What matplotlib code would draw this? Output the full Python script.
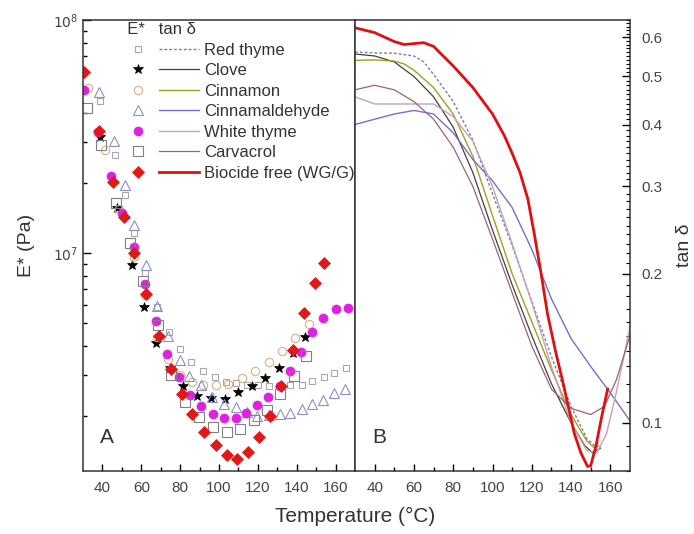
import matplotlib
matplotlib.use("Agg")
import matplotlib.pyplot as plt
from matplotlib.lines import Line2D
from matplotlib.legend_handler import HandlerTuple
from matplotlib.ticker import FixedLocator, NullFormatter, FixedFormatter

plt.rcParams['font.family'] = ['Liberation Sans', 'DejaVu Sans']

# ---------------- Panel A : E* (Pa) ----------------
T_red_thyme = [38.9, 46.6, 51.4, 56.5, 61.8, 68.0, 74.3, 79.7, 85.7, 91.7, 97.7, 103.7,
               108.8, 114.5, 120.0, 125.5, 131.0, 136.5, 142.5, 148.1, 153.8, 159.4, 165.2]
E_red_thyme = [4.51e7, 2.64e7, 1.78e7, 1.22e7, 8.2e6, 5.85e6, 4.6e6, 3.87e6, 3.42e6, 3.13e6, 2.93e6, 2.80e6,
               2.76e6, 2.72e6, 2.71e6, 2.70e6, 2.70e6, 2.71e6, 2.72e6, 2.83e6, 2.95e6, 3.07e6, 3.20e6]

T_clove = [38.8, 47.5, 55.1, 61.6, 67.6, 74.6, 81.7, 88.9, 96.1, 103.1, 110.0, 117.1,
           123.9, 131.1, 137.9, 144.4]
E_clove = [3.16e7, 1.56e7, 8.87e6, 5.89e6, 4.09e6, 3.2e6, 2.69e6, 2.43e6, 2.38e6, 2.36e6, 2.52e6, 2.69e6,
           2.90e6, 3.20e6, 3.71e6, 4.38e6]

T_cinnamon = [32.6, 41.1, 48.5, 56.0, 62.0, 68.3, 74.0, 80.0, 86.0, 92.0, 98.2, 104.5,
              111.9, 118.7, 125.5, 132.4, 139.2, 146.4]
E_cinnamon = [5.1e7, 2.77e7, 1.55e7, 9.6e6, 6.6e6, 4.38e6, 3.5e6, 3.0e6, 2.8e6, 2.72e6, 2.71e6, 2.75e6,
              2.92e6, 3.13e6, 3.42e6, 3.78e6, 4.31e6, 4.95e6]

T_cinnamald = [38.0, 45.7, 51.4, 56.5, 62.2, 68.0, 73.7, 79.9, 84.5, 90.5, 96.5, 102.8,
               108.5, 114.2, 119.6, 125.5, 131.2, 136.7, 142.6, 148.1, 153.7, 159.2, 164.9]
E_cinnamald = [4.92e7, 3.03e7, 1.96e7, 1.32e7, 8.9e6, 5.9e6, 4.4e6, 3.48e6, 2.97e6, 2.71e6, 2.42e6, 2.26e6,
               2.19e6, 2.08e6, 2.0e6, 2.02e6, 2.04e6, 2.05e6, 2.14e6, 2.25e6, 2.35e6, 2.50e6, 2.62e6]

T_white_thyme = [30.7, 37.5, 44.4, 50.2, 56.3, 61.8, 67.6, 73.4, 79.4, 85.0, 90.9, 96.8,
                 102.5, 108.5, 113.9, 119.6, 125.2, 131.2, 136.7, 142.3, 148.1, 153.4, 160.3, 166.3]
E_white_thyme = [5.0e7, 3.32e7, 2.15e7, 1.49e7, 1.06e7, 7.34e6, 5.12e6, 3.69e6, 2.95e6, 2.46e6, 2.21e6, 2.04e6,
                 1.95e6, 1.95e6, 2.05e6, 2.23e6, 2.42e6, 2.69e6, 3.13e6, 3.77e6, 4.59e6, 5.28e6, 5.73e6, 5.82e6]

T_carvacrol = [32.0, 39.5, 47.1, 54.0, 61.0, 68.5, 75.5, 82.5, 89.7, 96.8, 104.2, 111.0,
               117.8, 124.7, 131.5, 138.4, 144.9]
E_carvacrol = [4.2e7, 2.9e7, 1.64e7, 1.1e7, 7.6e6, 4.9e6, 3.0e6, 2.3e6, 1.97e6, 1.79e6, 1.70e6, 1.76e6,
               1.92e6, 2.12e6, 2.48e6, 2.97e6, 3.6e6]

T_biocide = [30.5, 38.2, 45.4, 51.2, 56.3, 62.6, 69.1, 75.5, 80.8, 86.3, 92.2, 98.2,
             103.9, 109.3, 115.0, 120.6, 126.4, 132.1, 137.9, 143.5, 149.2, 153.8]
E_biocide = [6.0e7, 3.34e7, 2.02e7, 1.43e7, 1.0e7, 6.67e6, 4.42e6, 3.17e6, 2.48e6, 2.04e6, 1.70e6, 1.50e6,
             1.36e6, 1.31e6, 1.40e6, 1.62e6, 2.0e6, 2.7e6, 3.84e6, 5.55e6, 7.41e6, 9.04e6]

# ---------------- Panel B : tan delta ----------------
Tt_red_thyme = [30, 40, 50, 60, 65, 70, 80, 90, 100, 110, 120, 130, 140, 148, 152, 155]
tan_red_thyme = [0.56, 0.558, 0.557, 0.55, 0.535, 0.505, 0.445, 0.372, 0.29, 0.228, 0.176, 0.136, 0.108, 0.093, 0.09, 0.092]

Tt_clove = [30, 40, 50, 60, 70, 80, 90, 100, 110, 120, 130, 140, 147, 151, 155]
tan_clove = [0.555, 0.55, 0.535, 0.50, 0.455, 0.395, 0.32, 0.245, 0.19, 0.15, 0.12, 0.1, 0.09, 0.087, 0.089]

Tt_cinnamon = [30, 40, 50, 55, 60, 70, 80, 90, 100, 110, 120, 130, 140, 148, 152, 154]
tan_cinnamon = [0.539, 0.54, 0.537, 0.53, 0.515, 0.475, 0.42, 0.345, 0.262, 0.2, 0.16, 0.128, 0.104, 0.092, 0.089, 0.09]

Tt_cinnamald = [30, 40, 50, 60, 70, 80, 90, 100, 110, 120, 130, 140, 150, 160, 170]
tan_cinnamald = [0.40, 0.41, 0.42, 0.427, 0.42, 0.385, 0.34, 0.308, 0.272, 0.224, 0.178, 0.148, 0.13, 0.115, 0.101]

Tt_white_thyme = [30, 40, 50, 60, 70, 80, 90, 100, 110, 120, 130, 140, 148, 153, 158, 163, 170]
tan_white_thyme = [0.455, 0.44, 0.44, 0.44, 0.44, 0.415, 0.37, 0.30, 0.23, 0.175, 0.13, 0.1, 0.088, 0.087, 0.095, 0.115, 0.156]

Tt_carvacrol = [30, 40, 50, 60, 70, 80, 90, 100, 110, 120, 130, 140, 150, 157, 163, 170]
tan_carvacrol = [0.47, 0.48, 0.47, 0.445, 0.41, 0.36, 0.30, 0.235, 0.183, 0.143, 0.117, 0.107, 0.104, 0.108, 0.122, 0.15]

Tt_biocide = [30, 40, 50, 55, 65, 70, 80, 90, 100, 106, 110, 114, 118, 121, 124.5, 128, 132,
              135.6, 138.6, 141.6, 145, 148.4, 150, 152.6, 155.6, 158.6]
tan_biocide = [0.627, 0.613, 0.588, 0.58, 0.585, 0.575, 0.525, 0.475, 0.42, 0.38, 0.35, 0.32, 0.283, 0.244,
               0.203, 0.166, 0.14, 0.122, 0.108, 0.0954, 0.087, 0.0817, 0.082, 0.0896, 0.103, 0.117]

labels = ['Red thyme', 'Clove', 'Cinnamon', 'Cinnamaldehyde', 'White thyme', 'Carvacrol', 'Biocide free (WG/G)']

fig = plt.figure(figsize=(6.94, 5.34), dpi=100)
axA = fig.add_axes([83/694, 63/534, 272/694, 451/534])
axB = fig.add_axes([355/694, 63/534, 275/694, 451/534])

mstyles = [
    dict(marker='s', ms=4.5, mfc='none', mec='#a8a8a8', mew=0.8),
    dict(marker='*', ms=7.5, mfc='black', mec='black', mew=0.5),
    dict(marker='o', ms=6, mfc='none', mec='#d8b080', mew=0.8),
    dict(marker='^', ms=7, mfc='none', mec='#8890c8', mew=0.8),
    dict(marker='o', ms=6.5, mfc='#e020e0', mec='#e020e0', mew=0.5),
    dict(marker='s', ms=6.5, mfc='none', mec='#808080', mew=0.8),
    dict(marker='D', ms=6.5, mfc='#e01818', mec='#e01818', mew=0.5),
]
lstyles = [
    dict(color='#7080a0', lw=1.0, ls=(0, (2, 1.5))),
    dict(color='#404040', lw=0.9, ls='-'),
    dict(color='#a0a020', lw=1.0, ls='-'),
    dict(color='#7070d0', lw=1.0, ls='-'),
    dict(color='#c8a0b0', lw=1.0, ls='-'),
    dict(color='#a06070', lw=0.9, ls='-'),
    dict(color='#e01010', lw=2.0, ls='-'),
]

Eseries = [(T_red_thyme, E_red_thyme), (T_clove, E_clove), (T_cinnamon, E_cinnamon),
           (T_cinnamald, E_cinnamald), (T_white_thyme, E_white_thyme), (T_carvacrol, E_carvacrol),
           (T_biocide, E_biocide)]
tseries = [(Tt_red_thyme, tan_red_thyme), (Tt_clove, tan_clove), (Tt_cinnamon, tan_cinnamon),
           (Tt_cinnamald, tan_cinnamald), (Tt_white_thyme, tan_white_thyme), (Tt_carvacrol, tan_carvacrol),
           (Tt_biocide, tan_biocide)]

for (t, e), ms in zip(Eseries, mstyles):
    axA.plot(t, e, ls='none', **ms)

for (t, v), ls in zip(tseries, lstyles):
    axB.plot(t, v, **ls)

tick_color = '#444444'
xmaj = [40, 60, 80, 100, 120, 140, 160]
xmin = [50, 70, 90, 110, 130, 150]
for ax in (axA, axB):
    ax.set_xlim(30, 170)
    ax.xaxis.set_major_locator(FixedLocator(xmaj))
    ax.xaxis.set_minor_locator(FixedLocator(xmin))
    ax.tick_params(axis='x', which='major', direction='in', length=5, width=1, labelsize=11,
                   labelcolor=tick_color, pad=7)
    ax.tick_params(axis='x', which='minor', direction='in', length=3, width=1)
    for s in ax.spines.values():
        s.set_linewidth(1.1)
        s.set_color('#333333')

axA.set_yscale('log')
axA.set_ylim(1.16e6, 1e8)
axA.yaxis.set_major_locator(FixedLocator([1e7, 1e8]))
axA.yaxis.set_major_formatter(FixedFormatter([r'$10^7$', r'$10^8$']))
axA.yaxis.set_minor_locator(FixedLocator([k*1e6 for k in range(2, 10)] + [k*1e7 for k in range(2, 10)]))
axA.yaxis.set_minor_formatter(NullFormatter())
axA.tick_params(axis='y', which='major', direction='in', length=6, width=1, labelsize=10,
                labelcolor=tick_color)
axA.tick_params(axis='y', which='minor', direction='in', length=3, width=1)
axA.set_ylabel('E* (Pa)', fontsize=14, color='#333333', labelpad=13)

axB.set_yscale('log')
axB.set_ylim(0.08, 0.65)
axB.yaxis.tick_right()
axB.yaxis.set_label_position('right')
majB = [0.1, 0.2, 0.3, 0.4, 0.5, 0.6]
axB.yaxis.set_major_locator(FixedLocator(majB))
axB.yaxis.set_major_formatter(FixedFormatter(['0.1', '0.2', '0.3', '0.4', '0.5', '0.6']))
minB = [k/100 for k in range(8, 66) if k % 10 != 0]
axB.yaxis.set_minor_locator(FixedLocator(minB))
axB.yaxis.set_minor_formatter(NullFormatter())
axB.tick_params(axis='y', which='major', direction='in', length=6, width=1, labelsize=11,
                labelcolor=tick_color, pad=8)
axB.tick_params(axis='y', which='minor', direction='in', length=3, width=0.8)
axB.set_ylabel('tan δ', fontsize=14, color='#333333', labelpad=10)

axA.text(0.088, 0.075, 'A', transform=axA.transAxes, fontsize=15, color='#333333',
         ha='center', va='center')
axB.text(0.09, 0.075, 'B', transform=axB.transAxes, fontsize=15, color='#333333',
         ha='center', va='center')

fig.text(355/694, 0.032, 'Temperature (°C)', fontsize=15, color='#333333', ha='center', va='center')

handles = []
for ms, ls in zip(mstyles, lstyles):
    hm = Line2D([], [], ls='none', **ms)
    hl = Line2D([], [], **ls)
    handles.append((hm, hl))
leg = axA.legend(handles, labels, handler_map={tuple: HandlerTuple(ndivide=None, pad=0.0)},
                 loc='upper left', bbox_to_anchor=(0.103, 1.01), frameon=False, fontsize=12,
                 handlelength=4.9, handletextpad=0.3, labelspacing=0.33, borderaxespad=0.0,
                 title='  E*   tan δ', title_fontsize=12, alignment='left')
for txt in leg.get_texts():
    txt.set_color('#333333')
leg.get_title().set_color('#333333')

fig.savefig('out.png', dpi=100)
